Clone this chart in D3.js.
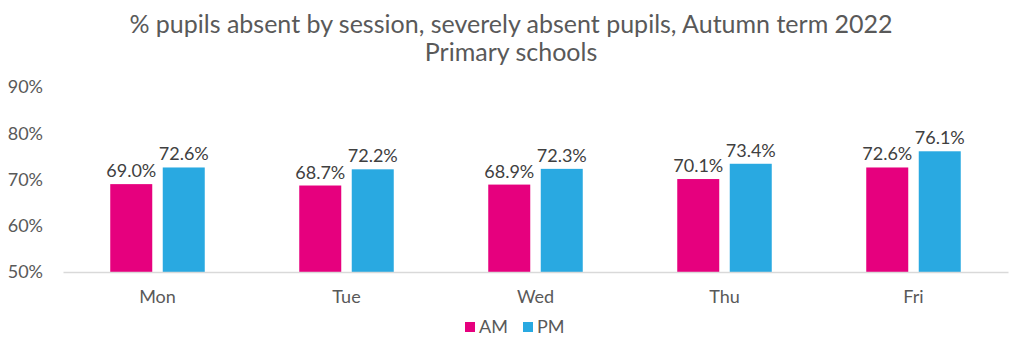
<!DOCTYPE html>
<html><head><meta charset="utf-8">
<script src="https://cdn.jsdelivr.net/npm/d3@7"></script>
<style>body{margin:0;background:#fff;} text{font-family:Lato, "Noto Sans", sans-serif;}</style>
</head><body><svg id="c" width="1024" height="357"></svg>
<script>
const categories = ["Mon","Tue","Wed","Thu","Fri"];
const seriesNames = ["AM","PM"];
const amValues = [69.0,68.7,68.9,70.1,72.6];
const pmValues = [72.6,72.2,72.3,73.4,76.1];
const yTicks = [50,60,70,80,90];
const titleLines = ["% pupils absent by session, severely absent pupils, Autumn term 2022","Primary schools"];
const colors = {AM:"#E6007E", PM:"#29A9E1"};

const svg = d3.select("#c");
const x0 = d3.scaleBand().domain(categories).range([63,1008]).paddingInner(0.5).paddingOuter(0.25);
const x1 = d3.scaleBand().domain(seriesNames).range([0,x0.bandwidth()]).paddingInner(0.2);
const y = d3.scaleLinear().domain([50,90]).range([272,87]);

svg.append("g").selectAll("text").data(titleLines).join("text")
  .attr("x",511).attr("y",(d,i)=>33+i*28).attr("text-anchor","middle")
  .attr("font-size",25).attr("fill","#595959").text(d=>d);

const yAxis = svg.append("g").attr("transform","translate(46,0)")
  .call(d3.axisLeft(y).tickValues(yTicks).tickSize(0).tickFormat(d=>d+"%"));
yAxis.select(".domain").remove();
yAxis.selectAll("text").attr("font-size",18).attr("fill","#595959").attr("font-family","Lato, 'Noto Sans', sans-serif");

const data = categories.map((c,i)=>({cat:c, vals:[{s:"AM",v:amValues[i]},{s:"PM",v:pmValues[i]}]}));
const g = svg.append("g").selectAll("g").data(data).join("g").attr("transform",d=>`translate(${x0(d.cat)},0)`);
g.selectAll("rect").data(d=>d.vals).join("rect")
  .attr("x",d=>x1(d.s)).attr("width",x1.bandwidth())
  .attr("y",d=>y(d.v)).attr("height",d=>y(50)-y(d.v)).attr("fill",d=>colors[d.s]);
g.selectAll("text").data(d=>d.vals).join("text")
  .attr("x",d=>x1(d.s)+x1.bandwidth()/2).attr("y",d=>y(d.v)-7)
  .attr("text-anchor","middle").attr("font-size",18).attr("fill","#404040")
  .text(d=>d.v.toFixed(1)+"%");

const xAxis = svg.append("g").attr("transform","translate(0,272)")
  .call(d3.axisBottom(x0).tickSize(0).tickSizeOuter(0));
xAxis.select(".domain").attr("stroke","#d9d9d9").attr("stroke-width",1.3);
xAxis.selectAll("text").attr("font-size",18).attr("fill","#595959").attr("y",0).attr("dy",0)
  .attr("transform","translate(0,31)").attr("font-family","Lato, 'Noto Sans', sans-serif");

const legendX = [465,523];
const lg = svg.append("g").selectAll("g").data(seriesNames).join("g").attr("transform",(d,i)=>`translate(${legendX[i]},0)`);
lg.append("rect").attr("x",0).attr("y",322).attr("width",10).attr("height",10).attr("fill",d=>colors[d]);
lg.append("text").attr("x",14).attr("y",333).attr("font-size",18).attr("fill","#595959").text(d=>d);
</script></body></html>
